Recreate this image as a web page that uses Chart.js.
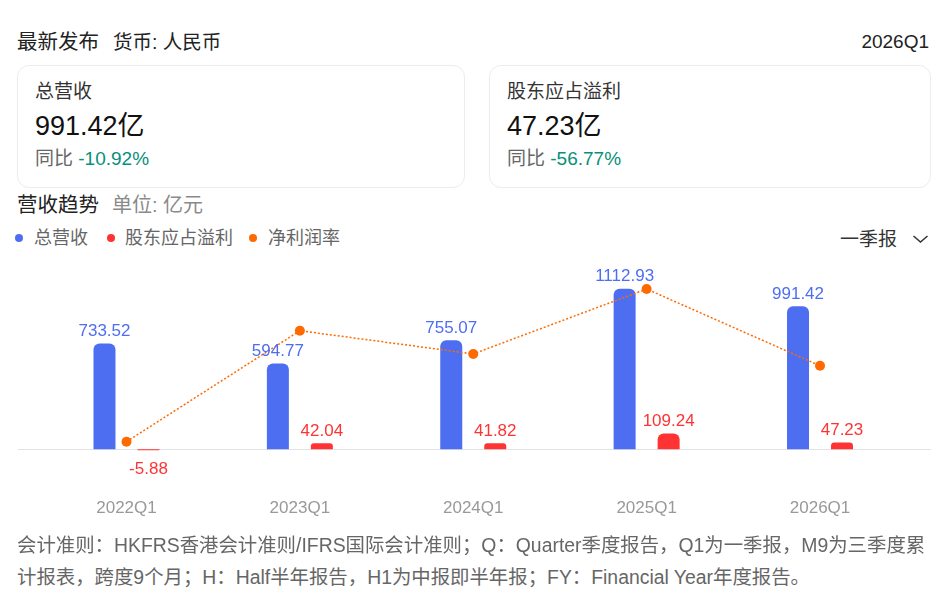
<!DOCTYPE html>
<html><head><meta charset="utf-8">
<script src="https://cdn.jsdelivr.net/npm/chart.js@4.4.0/dist/chart.umd.min.js"></script>
<style>
html,body{margin:0;padding:0;background:#fff;}
body{width:945px;height:603px;position:relative;overflow:hidden;font-family:"Liberation Sans",Arial,"Noto Sans CJK SC",sans-serif;color:#222;}
.abs{position:absolute;white-space:nowrap;}
.card{position:absolute;top:65px;height:123px;border:1px solid #ececec;border-radius:12px;box-sizing:border-box;}
.lbl{font-size:19px;line-height:24px;height:24px;color:#333;}
.val{font-size:27px;line-height:32px;height:32px;color:#111;}
.yoy{font-size:19px;line-height:24px;height:24px;color:#666;}
.yoy span{color:#07907a;}
.dot{position:absolute;width:8px;height:8px;border-radius:50%;}
.leg{font-size:18px;line-height:22px;height:22px;color:#666;}
.foot{font-size:19.4px;line-height:24px;height:24px;color:#666;}
#wrap{position:absolute;left:0;top:260px;width:945px;height:278px;}
</style>
</head><body>
<div class="abs" style="left:17px;top:30px;font-size:20.5px;line-height:24px;color:#222;">最新发布</div>
<div class="abs" style="left:113px;top:30px;font-size:19.5px;line-height:24px;color:#222;">货币: 人民币</div>
<div class="abs" style="right:16px;top:30px;font-size:19px;line-height:24px;color:#222;">2026Q1</div>

<div class="card" style="left:17px;width:448px;"></div>
<div class="card" style="left:489px;width:442px;"></div>
<div class="abs lbl" style="left:35px;top:80px;">总营收</div>
<div class="abs val" style="left:35px;top:110px;">991.42亿</div>
<div class="abs yoy" style="left:35px;top:147px;">同比 <span>-10.92%</span></div>
<div class="abs lbl" style="left:507px;top:80px;">股东应占溢利</div>
<div class="abs val" style="left:507px;top:110px;">47.23亿</div>
<div class="abs yoy" style="left:507px;top:147px;">同比 <span>-56.77%</span></div>

<div class="abs" style="left:17px;top:193px;font-size:20.5px;line-height:24px;color:#222;">营收趋势</div>
<div class="abs" style="left:112px;top:193px;font-size:20px;line-height:24px;color:#8a8a8a;">单位: 亿元</div>

<div class="dot" style="left:15px;top:234px;background:#4e6ef2;"></div>
<div class="abs leg" style="left:34px;top:227px;">总营收</div>
<div class="dot" style="left:107px;top:234px;background:#ff3333;"></div>
<div class="abs leg" style="left:125px;top:227px;">股东应占溢利</div>
<div class="dot" style="left:249px;top:234px;background:#ff6a00;"></div>
<div class="abs leg" style="left:268px;top:227px;">净利润率</div>

<div class="abs" style="left:840px;top:228px;font-size:19px;line-height:24px;color:#333;">一季报</div>
<svg class="abs" style="left:912px;top:234px;" width="17" height="10" viewBox="0 0 17 10"><polyline points="1.5,2 8.5,8 15.5,2" fill="none" stroke="#333" stroke-width="1.5"/></svg>

<div id="wrap"><canvas id="c"></canvas></div>

<div class="abs foot" style="left:17px;top:533px;">会计准则：HKFRS香港会计准则/IFRS国际会计准则；Q：Quarter季度报告，Q1为一季报，M9为三季度累</div>
<div class="abs foot" style="left:17px;top:565px;">计报表，跨度9个月；H：Half半年报告，H1为中报即半年报；FY：Financial Year年度报告。</div>

<script>
const categories = ['2022Q1', '2023Q1', '2024Q1', '2025Q1', '2026Q1'];
const revenue = [733.52, 594.77, 755.07, 1112.93, 991.42];
const profit = [-5.88, 42.04, 41.82, 109.24, 47.23];
const margin = [-0.25, 7.07, 5.54, 9.82, 4.76];

const BLUE = '#4e6ef2', RED = '#ff3333', ORANGE = '#ff6a00';
const FONT = '"Liberation Sans", Arial, "Noto Sans CJK SC", sans-serif';

const zeroLine = {
  id: 'zeroLine',
  beforeDatasetsDraw(chart) {
    const ctx = chart.ctx, y = Math.round(chart.scales.y.getPixelForValue(0)) + 0.5;
    ctx.save();
    ctx.strokeStyle = '#e3e3e3';
    ctx.lineWidth = 1;
    ctx.beginPath(); ctx.moveTo(18, y); ctx.lineTo(931, y); ctx.stroke();
    ctx.restore();
  }
};

const barLabels = {
  id: 'barLabels',
  afterDatasetsDraw(chart) {
    const ctx = chart.ctx;
    ctx.save();
    ctx.font = '17px ' + FONT;
    ctx.textAlign = 'center';
    ctx.textBaseline = 'middle';
    [0, 1].forEach(di => {
      const ds = chart.data.datasets[di];
      chart.getDatasetMeta(di).data.forEach((el, i) => {
        const v = ds.data[i];
        ctx.fillStyle = ds.labelColor;
        const y = v >= 0 ? el.y - 12 : el.y + 19;
        ctx.fillText(v.toFixed(2), el.x, y);
      });
    });
    ctx.restore();
  }
};

new Chart(document.getElementById('c'), {
  data: {
    labels: categories,
    datasets: [
      { type: 'bar', label: '总营收', data: revenue, yAxisID: 'y', backgroundColor: BLUE, labelColor: BLUE,
        borderRadius: 6, borderSkipped: 'start', categoryPercentage: 0.5075, barPercentage: 0.5, order: 2 },
      { type: 'bar', label: '股东应占溢利', data: profit, yAxisID: 'y', backgroundColor: RED, labelColor: RED,
        borderRadius: 6, borderSkipped: 'start', categoryPercentage: 0.5075, barPercentage: 0.5, order: 2 },
      { type: 'line', label: '净利润率', data: margin, yAxisID: 'y1', borderColor: ORANGE, backgroundColor: ORANGE,
        borderWidth: 1.5, borderDash: [2, 2], pointRadius: 5, pointHoverRadius: 5, pointBorderWidth: 0,
        pointBackgroundColor: ORANGE, tension: 0, order: 0 }
    ]
  },
  options: {
    responsive: true,
    maintainAspectRatio: false,
    animation: false,
    layout: { padding: { top: 10, left: 39.8, right: 38.3, bottom: 0.6 } },
    plugins: { legend: { display: false }, tooltip: { enabled: false } },
    scales: {
      x: {
        offset: true,
        grid: { display: false, drawTicks: false },
        border: { display: false },
        ticks: { color: '#999', font: { size: 17, family: FONT }, padding: 18.5, maxRotation: 0 }
      },
      y: { display: false, min: -212.8, max: 1242.6 },
      y1: { display: false, position: 'right', min: -2.777, max: 11.075 }
    }
  },
  plugins: [zeroLine, barLabels]
});
</script>
</body></html>
